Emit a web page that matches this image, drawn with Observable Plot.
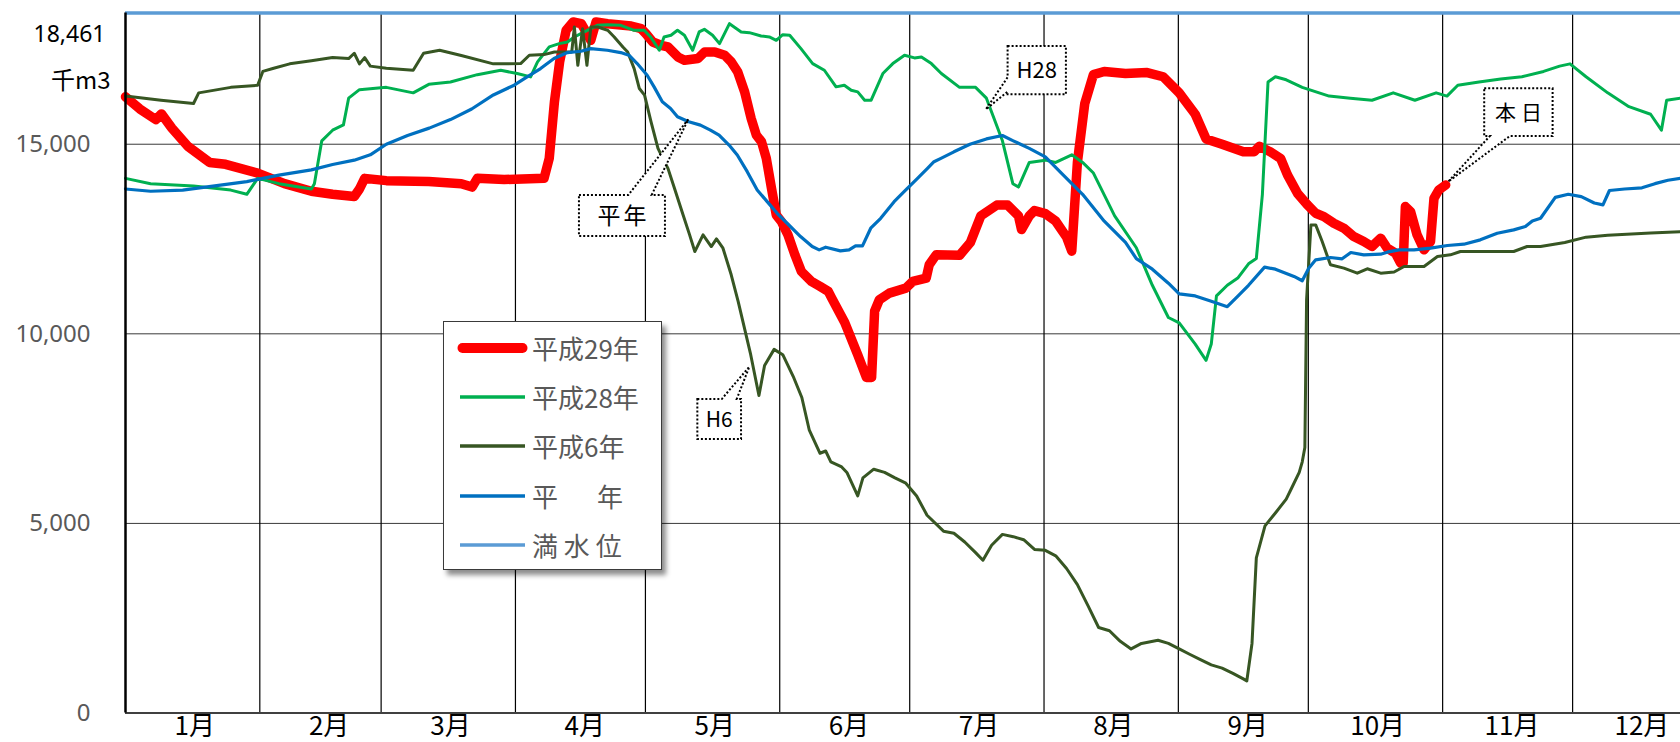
<!DOCTYPE html>
<html>
<head>
<meta charset="utf-8">
<script src="https://cdn.jsdelivr.net/npm/d3@7"></script>
<script src="https://cdn.jsdelivr.net/npm/@observablehq/plot@0.6"></script>
<style>
  html, body { margin: 0; padding: 0; background: #fff; overflow: hidden; }
  #wrap { position: relative; width: 1680px; height: 742px; }
  #legend {
    position: absolute; left: 443px; top: 321px; width: 219px; height: 249px;
    box-sizing: border-box; border: 1px solid #3a3a3a; background: #fff;
    box-shadow: 4px 5px 5px rgba(0,0,0,0.45);
    font-family: "Noto Sans CJK JP", "Noto Sans", sans-serif; font-size: 26px; color: #595959;
  }
  .lrow { position: absolute; left: 0; height: 40px; width: 218px; }
  .lrow svg { position: absolute; left: 10px; top: 13px; }
  .lrow span.t { position: absolute; left: 88px; top: 0; line-height: 40px; white-space: pre; }
</style>
</head>
<body>
<div id="wrap"></div>
<script>
// ---------- data ----------
const monthLabels = ["1月","2月","3月","4月","5月","6月","7月","8月","9月","10月","11月","12月"];
const monthStartDays = [0,31,59,90,120,151,181,212,243,273,304,334];
const yTicks = [0, 5000, 10000, 15000];
const fullLevel = 18461;
const unitLabel = "千m3";
const seriesNames = ["平成29年","平成28年","平成6年","平　　年","満 水 位"];

// 平成29年 (day of year from Jan 1, storage in 千m3)
const h29Days = [0,3.3,7,8.3,10.7,14.4,19.4,23.1,30.5,36.7,42.9,47.8,52.8,54,55.2,60.2,70,77.5,80,81.2,87.4,96.6,97.8,99,100.2,101.7,103.3,105.2,107.4,108.6,111.3,116.7,119,120.1,121.7,123.6,125.2,127.5,129,132.1,133.7,136,138.3,139.8,141.3,142.9,144.4,145.6,146.8,147.9,149.1,150.2,151.4,152.9,154.5,156,158.3,160.3,162.2,163,166,169,171,172.2,172.9,174,176.3,180.1,181.7,184.8,185.5,187.1,192.5,195,197.4,201.1,203.6,206.1,206.8,208.6,209.8,212.3,214.7,217.2,218.4,219.7,221.4,223.4,225.9,230.8,235.8,239.5,243.2,246.9,249.4,253.1,258,260.5,261.7,264.2,266.6,268.2,270.5,272.8,274.7,276.6,278.9,281.2,283.5,285.8,287.7,289.7,291.2,293.1,294.3,294.9,295.4,296.6,298.1,299.7,301.2,302,303.1,304.7];
const h29Vals = [16250,15930,15650,15800,15425,14945,14520,14470,14240,13960,13760,13680,13620,13820,14100,14040,14015,13960,13870,14100,14070,14100,14627,16118,17171,18005,18224,18180,17742,18224,18180,18118,18048,17917,17697,17610,17566,17303,17215,17259,17434,17434,17347,17171,16908,16381,15680,15241,15066,14627,13837,13135,12960,12609,12083,11644,11381,11250,11118,10942,10300,9450,8850,8850,10600,10900,11074,11206,11381,11469,11820,12083,12070,12410,13110,13395,13395,13110,12750,13110,13250,13170,12970,12550,12180,14520,16070,16835,16920,16865,16890,16780,16355,15790,15140,15000,14800,14800,14945,14800,14625,14189,13705,13400,13180,13092,12916,12785,12566,12434,12303,12522,12259,12127,11864,11864,13355,13224,12610,12215,12434,13574,13793,13925];

// 平成28年
const h28Days = [0,5.8,15.7,24.3,28,30.5,35.4,42.9,43.6,45.3,47.8,50.3,51.5,54,60.2,66.4,70,75,81.2,86.6,90.4,93.5,95.1,97.8,100.1,102,103.6,105.1,106.6,108.9,111.2,114.3,117.4,119.7,121.2,123.2,124.3,125.9,127.4,129,130.9,132.4,133.6,135.5,137.1,139.4,142.1,144,146.7,148.6,150.2,151.7,153.3,155.9,158.6,161.3,164,165.9,167.5,169,170.6,172.1,174.8,177.1,179.8,182.1,183.7,186,188.3,192.5,196.2,198.7,202.4,204.8,206.1,208.6,212.3,214.7,218.4,220.9,223.4,228.3,233.3,237,240.7,243.2,246.9,249.4,250.6,251.8,254.3,256.8,259.2,261,262.4,263.7,265.4,267.9,271.6,277.8,282.7,287.7,292.6,297.6,302.5,305,307.5,312.4,317.4,322.3,327.3,331,333.4,337.1,342.1,347,352,354.5,355.7,358.9];
const h28Vals = [14100,13960,13900,13790,13680,14100,13960,13820,13960,15090,15370,15510,16215,16440,16500,16355,16580,16640,16835,16951,16864,16776,17171,17566,17654,17698,17829,17917,18005,18136,18154,18136,18005,18005,17829,17478,17829,17873,18005,17873,17478,17961,18031,17873,17654,18180,17961,17943,17855,17829,17741,17890,17873,17522,17127,16951,16513,16557,16425,16381,16162,16162,16864,17127,17347,17277,17303,17127,16864,16500,16500,16215,15090,13960,13870,14520,14580,14520,14720,14520,14240,13110,12270,11280,10430,10290,9730,9300,9730,11000,11280,11480,11845,11985,13680,16640,16780,16700,16500,16270,16215,16160,16355,16160,16355,16270,16555,16640,16720,16780,16920,17060,17120,16780,16355,15990,15790,15370,16160,16215];

// 平成6年
const h6Days = [0,8.2,15.7,16.9,24.3,30.5,31.7,34.2,37.9,42.9,47.8,51.5,52.8,54,55.2,56.5,60.2,66.4,68.8,72.5,77.5,84.9,91.2,93.2,96.6,99,103,103.6,104.4,105.5,106.5,107.4,109,111.3,112.8,114.8,115.9,117.4,118.6,119.8,121.3,122.9,124.4,125.2,126.7,128.7,130.2,131.4,133.3,135.2,136.4,137.9,139.8,141.4,144.3,146.2,147.5,149.7,151.7,154.1,156.1,157.8,160.3,161.6,162.8,165.3,166.5,169,170.2,172.7,175.2,177.6,180.1,182.6,185,188.8,191.2,193.7,196.2,197.9,199.9,202.4,204.9,207.3,209.8,212.3,214.7,217.2,219.7,222.2,224.6,227.1,229.6,232.1,234.5,238.3,240.7,243.2,245.6,248.1,250.6,253.1,255.6,258,258.8,260,261,263,265.4,267.9,269.1,270.9,271.6,272.2,272.6,273.6,274.7,276.2,278.1,281.2,284.3,286.6,289.7,292.8,295.1,299.7,302.8,305.8,308.1,320.4,323.5,326.6,332.2,337.1,342.1,352,358.9];
const h6Vals = [16270,16160,16075,16355,16500,16555,16920,17005,17120,17200,17285,17260,17400,17120,17285,17060,17005,16950,17400,17480,17340,17120,17127,17347,17364,17434,17434,18092,17083,18048,17083,18092,18092,18005,17829,17566,17434,16995,16469,16294,15592,14890,14539,14364,13837,13135,12609,12170,12609,12302,12504,12258,11557,10855,9450,8375,9165,9590,9450,8880,8320,7470,6850,6910,6625,6490,6345,5725,6200,6430,6345,6200,6060,5725,5215,4795,4740,4510,4230,4030,4425,4710,4650,4570,4315,4290,4145,3810,3385,2820,2255,2170,1890,1690,1835,1920,1835,1690,1550,1410,1270,1185,1045,900,845,1835,4090,4935,5275,5640,5920,6345,6625,7000,10900,12873,12873,12434,11820,11732,11600,11716,11600,11630,11776,11776,12040,12083,12171,12171,12303,12303,12410,12550,12600,12660,12690];

// 平年
const avgDays = [0,5.8,13.2,20.6,28,35.4,42.9,47.8,52.8,56.5,60.2,65.1,70.1,75,79.9,84.9,89.7,92.7,95.8,98.9,102,105.1,107.4,111.2,114.3,116.2,118.1,120.4,122,123.9,125.8,127.4,130,132.7,135,137,139.3,141.2,143.5,145.8,148.1,150.4,152.7,155.8,158.5,160.1,161.6,165,167,168.5,170.1,172,174.3,177.4,179.7,182.8,185.1,186.6,188.2,191.2,194.9,198.7,202.4,204.9,208.6,212.3,216,220.9,225.9,230.8,233.3,237,240.7,243.2,246.9,250.6,254.3,256.8,259.2,262.9,265.4,269.7,271.6,273.1,274.7,278.1,280.8,282.8,285.8,289.7,291.2,293.9,297.4,301.2,305.1,308.9,312.7,316.6,320.4,323.1,324.7,326.6,330,333,336,339,341,342.5,346,350,353,356,358.9];
const avgVals = [13820,13760,13790,13900,14015,14185,14325,14465,14580,14720,15000,15230,15425,15650,15930,16300,16557,16776,16995,17259,17417,17452,17522,17478,17417,17347,17127,16820,16513,16118,15943,15724,15592,15504,15373,15241,14978,14715,14276,13794,13486,13179,12916,12565,12302,12214,12284,12188,12214,12319,12319,12785,13047,13486,13750,14101,14364,14539,14627,14800,15000,15140,15230,15090,14890,14665,14240,13680,12970,12410,11985,11705,11335,11055,11000,10860,10715,11000,11280,11760,11705,11513,11399,11732,11952,12013,11978,12144,12083,12100,12153,12215,12215,12259,12329,12364,12478,12653,12741,12829,12978,13047,13600,13680,13620,13450,13400,13780,13820,13850,13960,14050,14100];

// callout annotations: label + anchor point (day, value)
const calloutLabels = ["平年","H6","H28","本日"];
const calloutDays = [130.0, 144.1, 198.7, 305.4];
const calloutVals = [15644, 9119, 15908, 13999];

// ---------- styles / layout ----------
const seriesColors = ["#FF0000","#00B050","#375623","#0070C0","#5B9BD5"];
const seriesWidths = [9.5, 3, 3, 3.2, 3.5];
// box relative to the tip (px): [x0, y0, x1, y1], wedge side and base points
const calloutLayout = [
  {box: [-109.3, 75.7, -23.3, 116.7], side: "top", a: -60, b: -36.6, fs: 23, ls: 3},
  {box: [-52, 32.3, -8.3, 72.3], side: "top", a: -27.6, b: -12.6, fs: 21, ls: 0},
  {box: [21.7, -63.3, 80, -15], side: "left", a: -32, b: -17.6, fs: 22, ls: 0},
  {box: [36, -93.4, 104.4, -45.7], side: "bottom", a: 41.7, b: 61.7, fs: 21, ls: 5}
];

const rows = (days, vals) => days.map((d, i) => ({day: d, value: vals[i]}));
const seriesData = [rows(h29Days, h29Vals), rows(h28Days, h28Vals), rows(h6Days, h6Vals), rows(avgDays, avgVals)];
const fmt = d3.format(",");

function calloutMark(index, scales) {
  const g = d3.create("svg:g");
  calloutLabels.forEach((label, i) => {
    const tx = scales.x(calloutDays[i]), ty = scales.y(calloutVals[i]);
    const L = calloutLayout[i];
    const [x0, y0, x1, y1] = L.box;
    let pts;
    if (L.side === "top") pts = [[x0,y0],[L.a,y0],[0,0],[L.b,y0],[x1,y0],[x1,y1],[x0,y1]];
    else if (L.side === "bottom") pts = [[x0,y0],[x1,y0],[x1,y1],[L.b,y1],[0,0],[L.a,y1],[x0,y1]];
    else pts = [[x0,y0],[x1,y0],[x1,y1],[x0,y1],[x0,L.b],[0,0],[x0,L.a]];
    g.append("path")
      .attr("d", "M" + pts.map(p => (tx + p[0]) + "," + (ty + p[1])).join("L") + "Z")
      .attr("fill", "#fff").attr("stroke", "#000").attr("stroke-width", 2)
      .attr("stroke-dasharray", "2 2");
    g.append("text")
      .attr("x", tx + (x0 + x1) / 2 + L.ls / 2).attr("y", ty + (y0 + y1) / 2)
      .attr("dy", "0.36em").attr("text-anchor", "middle")
      .attr("font-size", L.fs).attr("letter-spacing", L.ls)
      .attr("font-family", "'Noto Sans CJK JP', 'Noto Sans', sans-serif")
      .attr("fill", "#000").text(label);
  });
  return g.node();
}

const chart = Plot.plot({
  width: 1680, height: 742,
  marginLeft: 125, marginRight: 0, marginTop: 12.5, marginBottom: 29.5,
  x: {domain: [0, 358.9], axis: null},
  y: {domain: [0, fullLevel], axis: null},
  style: {fontFamily: "'Noto Sans', 'Noto Sans CJK JP', sans-serif", background: "#fff", overflow: "visible"},
  marks: [
    Plot.ruleY(yTicks.slice(1), {stroke: "#3a3a3a", strokeWidth: 1}),
    Plot.ruleX(monthStartDays.slice(1), {stroke: "#000", strokeWidth: 1.2}),
    Plot.ruleY([fullLevel], {stroke: seriesColors[4], strokeWidth: seriesWidths[4]}),
    ...seriesData.map((data, i) => Plot.line(data, {
      x: "day", y: "value", stroke: seriesColors[i], strokeWidth: seriesWidths[i],
      strokeLinejoin: "round", strokeLinecap: "round"
    })),
    Plot.ruleY([0], {stroke: "#404040", strokeWidth: 2}),
    Plot.ruleX([0], {stroke: "#000", strokeWidth: 2.5}),
    Plot.text(yTicks, {x: 0, y: d => d, text: d => fmt(d), dx: -35, textAnchor: "end",
      fontSize: 24, fill: "#595959"}),
    Plot.text([fullLevel], {x: 0, y: d => d, text: d => fmt(d), dx: -20, dy: 29,
      lineAnchor: "bottom", textAnchor: "end", fontSize: 23, fill: "#000"}),
    Plot.text([unitLabel], {x: 0, y: () => fullLevel, text: d => d, dx: -15, dy: 76,
      lineAnchor: "bottom", textAnchor: "end", fontSize: 24, fill: "#000",
      fontFamily: "'Noto Sans CJK JP', sans-serif"}),
    Plot.text(monthLabels, {x: (d, i) => monthStartDays[i] + 16, y: 0, text: d => d, dy: 21.5,
      lineAnchor: "bottom", textAnchor: "middle", fontSize: 26, fill: "#000",
      fontFamily: "'Noto Sans CJK JP', sans-serif"}),
    calloutMark
  ]
});

const wrap = document.getElementById("wrap");
wrap.appendChild(chart);

// legend (overlay)
const legend = document.createElement("div");
legend.id = "legend";
const rowCenters = [25.7, 75, 124, 174, 223];
seriesNames.forEach((name, i) => {
  const r = document.createElement("div");
  r.className = "lrow";
  r.style.top = (rowCenters[i] - 20) + "px";
  const cap = i === 0 ? "round" : "butt";
  r.innerHTML = `<svg width="76" height="14"><line x1="${i===0?8.5:6}" x2="${i===0?68.5:71}" y1="7" y2="7" stroke="${seriesColors[i]}" stroke-width="${i===0?10:3.3}" stroke-linecap="${cap}"/></svg>`;
  const t = document.createElement("span");
  t.className = "t";
  if (name.includes("\u3000")) {
    const parts = name.split(/(\u3000+)/);
    parts.forEach(p => {
      const s = document.createElement("span");
      s.textContent = p;
      if (/\u3000/.test(p)) s.style.fontSize = "19.5px";
      t.appendChild(s);
    });
  } else {
    t.textContent = name;
  }
  r.appendChild(t);
  legend.appendChild(r);
});
wrap.appendChild(legend);
</script>
</body>
</html>
